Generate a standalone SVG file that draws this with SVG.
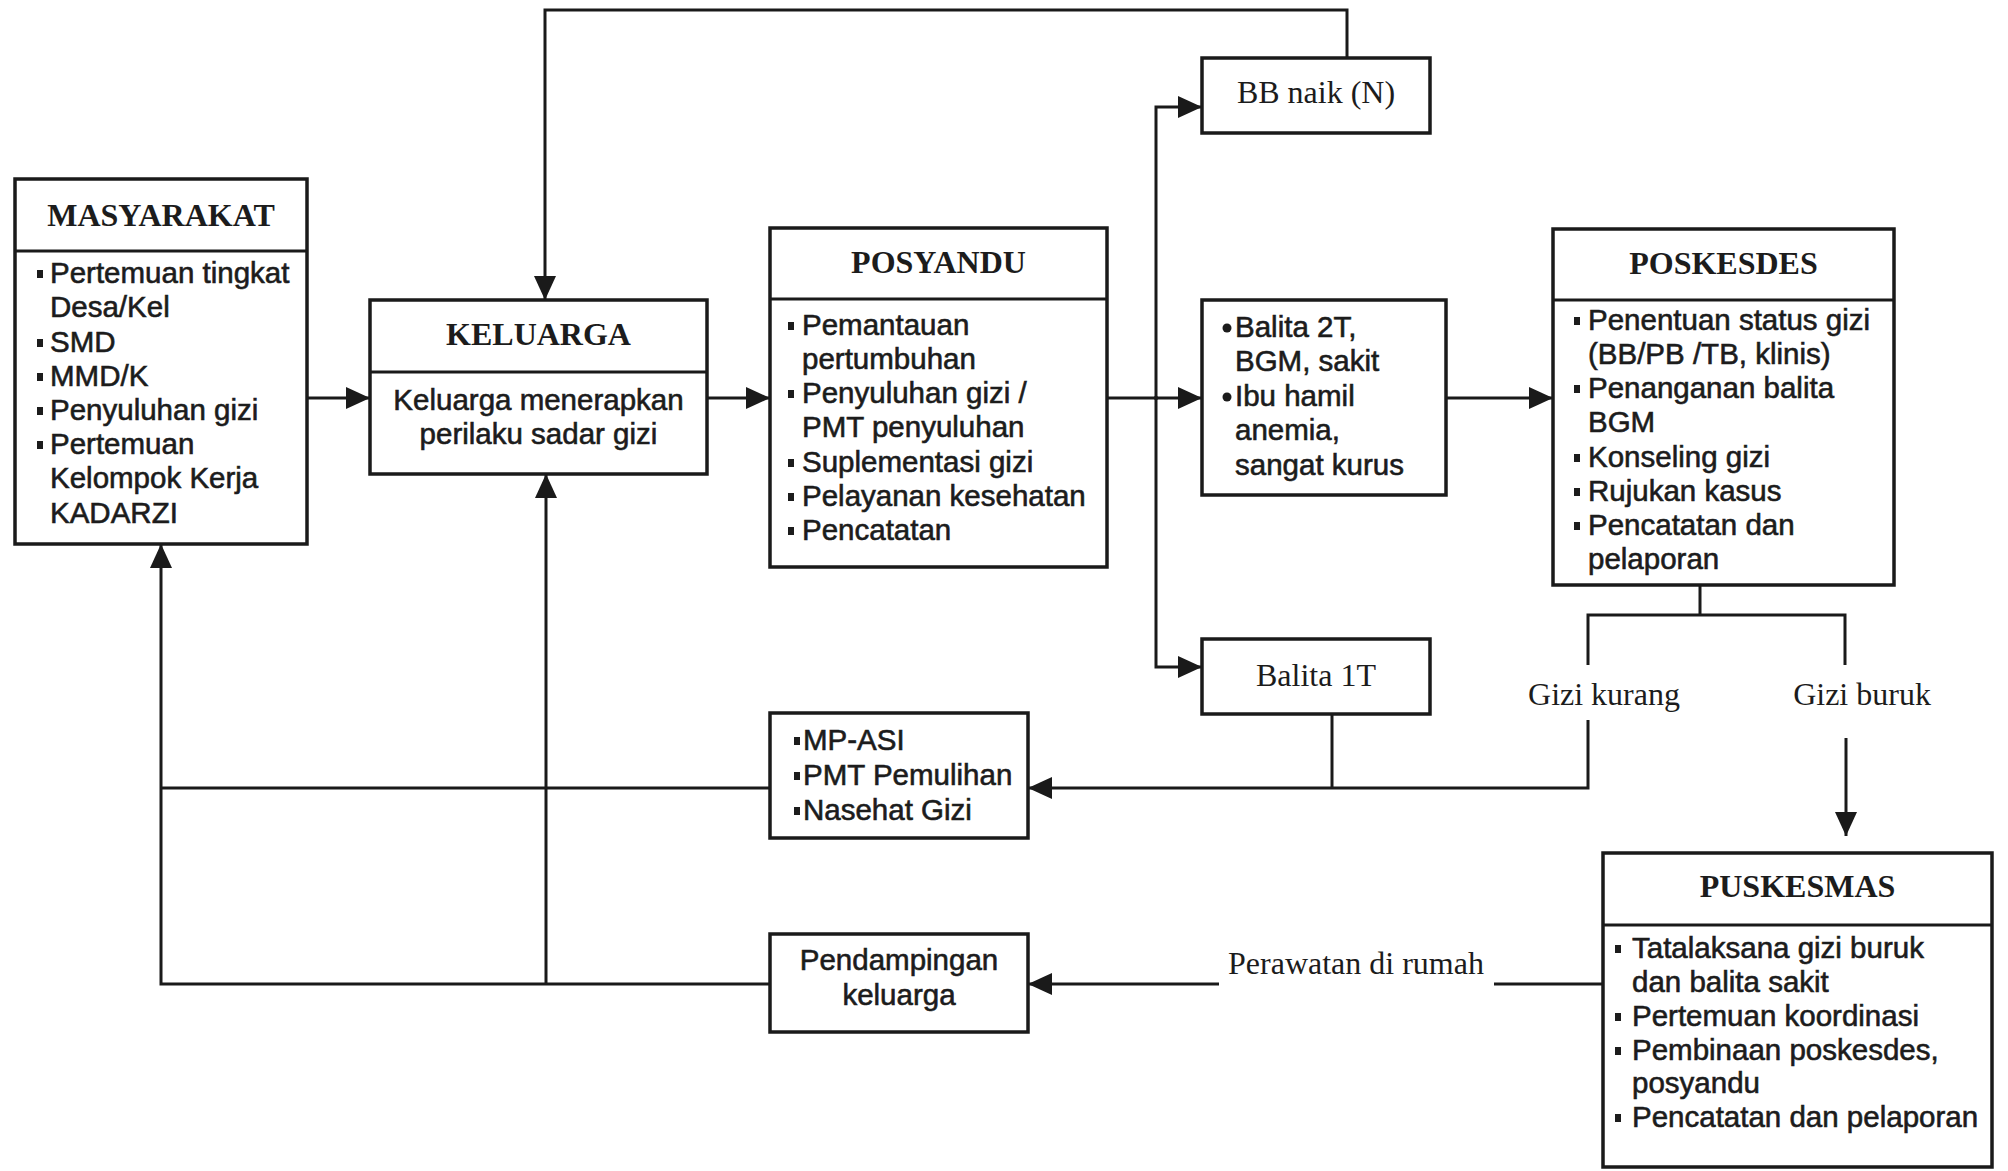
<svg xmlns="http://www.w3.org/2000/svg" width="2008" height="1171" viewBox="0 0 2008 1171">
<style>
.box{fill:#fff;stroke:#1a1a1a;stroke-width:3.5}
.ln{fill:none;stroke:#1a1a1a;stroke-width:3}
.arr{marker-end:url(#ah)}
.ttl{font-family:"Liberation Serif","Times New Roman",serif;font-weight:bold;font-size:32px;text-anchor:middle;fill:#1c1c1c}
.lbl{font-family:"Liberation Serif","Times New Roman",serif;font-size:32px;text-anchor:middle;fill:#1c1c1c}
.tx{font-family:"Liberation Sans",Arial,sans-serif;font-size:29.5px;fill:#1c1c1c;stroke:#1c1c1c;stroke-width:0.6}
.mid{text-anchor:middle}
.bl{fill:#1c1c1c}
</style>
<defs>
<marker id="ah" viewBox="0 0 24 24" refX="24" refY="12" markerWidth="24" markerHeight="24" markerUnits="userSpaceOnUse" orient="auto">
<path d="M0,1 L24,12 L0,23 z" fill="#1a1a1a"/>
</marker>
</defs>
<rect width="2008" height="1171" fill="#fff"/>

<g id="connectors">
<path class="ln arr" d="M307,398 H370"/>
<path class="ln arr" d="M707,398 H770"/>
<path class="ln arr" d="M1107,398 H1202"/>
<path class="ln arr" d="M1446,398 H1553"/>
<path class="ln arr" d="M1156,400 V107 H1202"/>
<path class="ln arr" d="M1156,396 V667 H1202"/>
<path class="ln arr" d="M1347,58 V10 H545 V300"/>
<path class="ln" d="M1700,585 V615"/>
<path class="ln" d="M1588,665 V615 H1845 V665"/>
<path class="ln arr" d="M1588,720 V788 H1028"/>
<path class="ln" d="M1332,714 V788"/>
<path class="ln arr" d="M1846,738 V836"/>
<path class="ln" d="M770,788 H161"/>
<path class="ln arr" d="M770,984 H161 V544"/>
<path class="ln arr" d="M546,984 V474"/>
<path class="ln" d="M1603,984 H1494"/>
<path class="ln arr" d="M1219,984 H1028"/>
<text class="lbl" x="1604" y="705">Gizi kurang</text>
<text class="lbl" x="1862" y="705">Gizi buruk</text>
<text class="lbl" x="1356" y="974">Perawatan di rumah</text>
</g>

<g id="masyarakat">
<rect class="box" x="15" y="179" width="292" height="365"/>
<path class="ln" d="M15,251 H307"/>
<text class="ttl" x="161" y="226">MASYARAKAT</text>
<rect class="bl" x="37" y="270" width="6" height="8"/>
<rect class="bl" x="37" y="339" width="6" height="8"/>
<rect class="bl" x="37" y="373" width="6" height="8"/>
<rect class="bl" x="37" y="407" width="6" height="8"/>
<rect class="bl" x="37" y="441" width="6" height="8"/>
<text class="tx" x="50" y="283">Pertemuan tingkat</text>
<text class="tx" x="50" y="317">Desa/Kel</text>
<text class="tx" x="50" y="352">SMD</text>
<text class="tx" x="50" y="386">MMD/K</text>
<text class="tx" x="50" y="420">Penyuluhan gizi</text>
<text class="tx" x="50" y="454">Pertemuan</text>
<text class="tx" x="50" y="488">Kelompok Kerja</text>
<text class="tx" x="50" y="523">KADARZI</text>
</g>

<g id="keluarga">
<rect class="box" x="370" y="300" width="337" height="174"/>
<path class="ln" d="M370,372 H707"/>
<text class="ttl" x="538.5" y="345">KELUARGA</text>
<text class="tx mid" x="538.5" y="410">Keluarga menerapkan</text>
<text class="tx mid" x="538.5" y="444">perilaku sadar gizi</text>
</g>

<g id="posyandu">
<rect class="box" x="770" y="228" width="337" height="339"/>
<path class="ln" d="M770,299 H1107"/>
<text class="ttl" x="938.5" y="273">POSYANDU</text>
<rect class="bl" x="788" y="322" width="6" height="8"/>
<rect class="bl" x="788" y="390" width="6" height="8"/>
<rect class="bl" x="788" y="459" width="6" height="8"/>
<rect class="bl" x="788" y="493" width="6" height="8"/>
<rect class="bl" x="788" y="527" width="6" height="8"/>
<text class="tx" x="802" y="335">Pemantauan</text>
<text class="tx" x="802" y="369">pertumbuhan</text>
<text class="tx" x="802" y="403">Penyuluhan gizi /</text>
<text class="tx" x="802" y="437">PMT penyuluhan</text>
<text class="tx" x="802" y="472">Suplementasi gizi</text>
<text class="tx" x="802" y="506">Pelayanan kesehatan</text>
<text class="tx" x="802" y="540">Pencatatan</text>
</g>

<g id="bb-naik">
<rect class="box" x="1202" y="58" width="228" height="75"/>
<text class="lbl" x="1316" y="103">BB naik (N)</text>
</g>

<g id="balita-2t">
<rect class="box" x="1202" y="300" width="244" height="195"/>
<circle class="bl" cx="1227" cy="328" r="4.5"/>
<circle class="bl" cx="1227" cy="397" r="4.5"/>
<text class="tx" x="1235" y="337">Balita 2T,</text>
<text class="tx" x="1235" y="371">BGM, sakit</text>
<text class="tx" x="1235" y="406">Ibu hamil</text>
<text class="tx" x="1235" y="440">anemia,</text>
<text class="tx" x="1235" y="475">sangat kurus</text>
</g>

<g id="balita-1t">
<rect class="box" x="1202" y="639" width="228" height="75"/>
<text class="lbl" x="1316" y="686">Balita 1T</text>
</g>

<g id="poskesdes">
<rect class="box" x="1553" y="229" width="341" height="356"/>
<path class="ln" d="M1553,300 H1894"/>
<text class="ttl" x="1723.5" y="274">POSKESDES</text>
<rect class="bl" x="1574" y="317" width="6" height="8"/>
<rect class="bl" x="1574" y="385" width="6" height="8"/>
<rect class="bl" x="1574" y="454" width="6" height="8"/>
<rect class="bl" x="1574" y="488" width="6" height="8"/>
<rect class="bl" x="1574" y="522" width="6" height="8"/>
<text class="tx" x="1588" y="330">Penentuan status gizi</text>
<text class="tx" x="1588" y="364">(BB/PB /TB, klinis)</text>
<text class="tx" x="1588" y="398">Penanganan balita</text>
<text class="tx" x="1588" y="432">BGM</text>
<text class="tx" x="1588" y="467">Konseling gizi</text>
<text class="tx" x="1588" y="501">Rujukan kasus</text>
<text class="tx" x="1588" y="535">Pencatatan dan</text>
<text class="tx" x="1588" y="569">pelaporan</text>
</g>

<g id="mp-asi">
<rect class="box" x="770" y="713" width="258" height="125"/>
<rect class="bl" x="794" y="737" width="6" height="8"/>
<rect class="bl" x="794" y="772" width="6" height="8"/>
<rect class="bl" x="794" y="807" width="6" height="8"/>
<text class="tx" x="803" y="750">MP-ASI</text>
<text class="tx" x="803" y="785">PMT Pemulihan</text>
<text class="tx" x="803" y="820">Nasehat Gizi</text>
</g>

<g id="pendampingan">
<rect class="box" x="770" y="934" width="258" height="98"/>
<text class="tx mid" x="899" y="970">Pendampingan</text>
<text class="tx mid" x="899" y="1005">keluarga</text>
</g>

<g id="puskesmas">
<rect class="box" x="1603" y="853" width="389" height="314"/>
<path class="ln" d="M1603,925 H1992"/>
<text class="ttl" x="1797.5" y="897">PUSKESMAS</text>
<rect class="bl" x="1615" y="945" width="6" height="8"/>
<rect class="bl" x="1615" y="1013" width="6" height="8"/>
<rect class="bl" x="1615" y="1047" width="6" height="8"/>
<rect class="bl" x="1615" y="1114" width="6" height="8"/>
<text class="tx" x="1632" y="958">Tatalaksana gizi buruk</text>
<text class="tx" x="1632" y="992">dan balita sakit</text>
<text class="tx" x="1632" y="1026">Pertemuan koordinasi</text>
<text class="tx" x="1632" y="1060">Pembinaan poskesdes,</text>
<text class="tx" x="1632" y="1093">posyandu</text>
<text class="tx" x="1632" y="1127">Pencatatan dan pelaporan</text>
</g>
</svg>
